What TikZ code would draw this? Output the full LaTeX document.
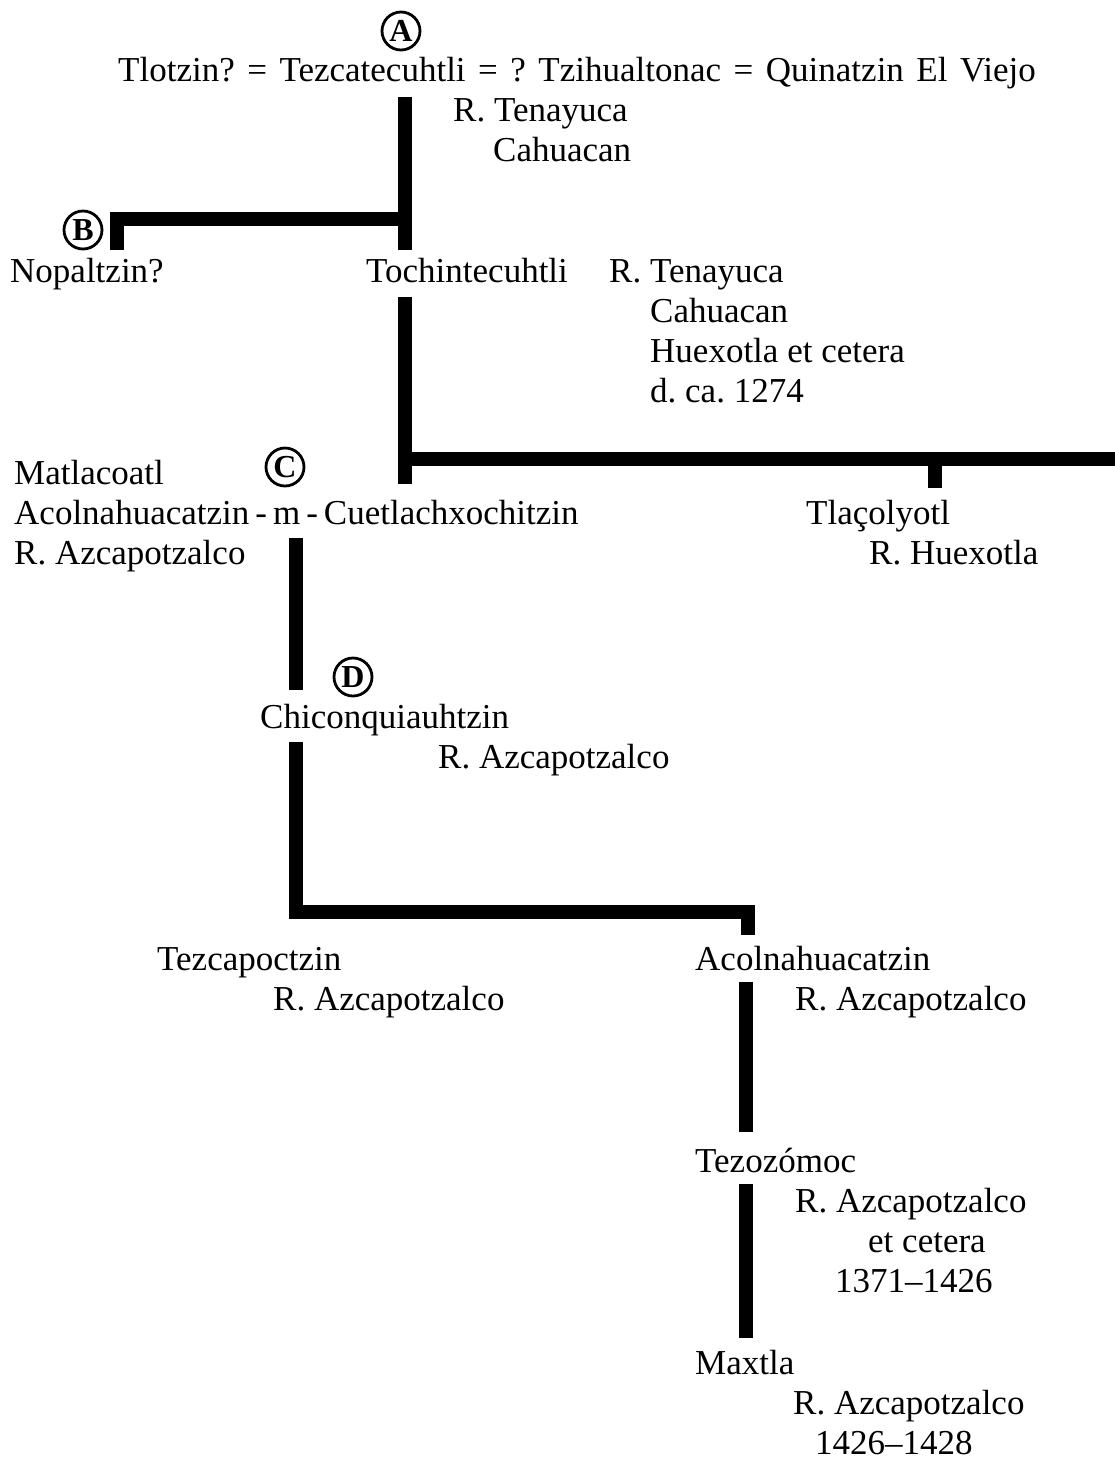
\documentclass[tikz,border=0pt]{standalone}
\usepackage{fontspec}
\setmainfont{Liberation Serif}
\frenchspacing
\begin{document}
\begin{tikzpicture}[x=1pt,y=-1pt,
  txt/.style={anchor=base west, inner sep=0pt, font=\fontsize{35}{40}\selectfont},
  circlet/.style={shape=circle, draw=black, line width=2.8pt, minimum width=38pt, minimum height=38pt, inner sep=0pt, font=\fontsize{32}{32}\selectfont\bfseries},
  bar/.style={line width=14pt, line cap=butt, line join=miter}]
\useasboundingbox (0,0) rectangle (1115,1460);
% circled letters
\node[circlet] (cA) at (401,31) {A};
\node[circlet] (cB) at (83,230) {B};
\node[circlet] (cC) at (285,467) {C};
\node[circlet] (cD) at (353,677) {D};
% texts
\node[txt] (top) at (118,81) {\spaceskip=12.5pt plus 2pt Tlotzin? = Tezcatecuhtli = ? Tzihualtonac = Quinatzin El Viejo};
\node[txt] (t1a) at (453,121) {R. Tenayuca};
\node[txt] (t1b) at (493,161) {Cahuacan};
\node[txt] (nop) at (10,282) {Nopaltzin?};
\node[txt] (toch) at (366,282) {Tochintecuhtli};
\node[txt] (t2a) at (609,282) {R. Tenayuca};
\node[txt] (t2b) at (650,322) {Cahuacan};
\node[txt] (t2c) at (650,362) {Huexotla et cetera};
\node[txt] (t2d) at (650,402) {d. ca. 1274};
\node[txt] (mat) at (14,484) {Matlacoatl};
\node[txt] (acol) at (14,524) {\spaceskip=6pt plus 1pt Acolnahuacatzin - m - Cuetlachxochitzin};
\node[txt] (acolr) at (14,564) {R. Azcapotzalco};
\node[txt] (tla) at (806,524) {Tlaçolyotl};
\node[txt] (tlar) at (869,564) {R. Huexotla};
\node[txt] (chi) at (260,728) {Chiconquiauhtzin};
\node[txt] (chir) at (438,768) {R. Azcapotzalco};
\node[txt] (tez) at (157,970) {Tezcapoctzin};
\node[txt] (tezr) at (273,1010) {R. Azcapotzalco};
\node[txt] (aco2) at (695,970) {Acolnahuacatzin};
\node[txt] (aco2r) at (795,1010) {R. Azcapotzalco};
\node[txt] (tzz) at (695,1172) {Tezozómoc};
\node[txt] (tzza) at (795,1212) {R. Azcapotzalco};
\node[txt] (tzzb) at (868,1252) {et cetera};
\node[txt] (tzzc) at (835,1292) {1371–1426};
\node[txt] (max) at (695,1374) {Maxtla};
\node[txt] (maxa) at (793,1414) {R. Azcapotzalco};
\node[txt] (maxb) at (815,1454) {1426–1428};
% bar coordinates
\coordinate (a1) at (405,97);
\coordinate (a2) at (405,250);
\coordinate (b1) at (117,250);
\coordinate (bj) at (117,219);
\coordinate (bk) at (412,219);
\coordinate (c1) at (405,297);
\coordinate (c2) at (405,484);
\coordinate (cj) at (398,459);
\coordinate (ck) at (1115,459);
\coordinate (d1) at (935,459);
\coordinate (d2) at (935,488);
\coordinate (e1) at (296,538);
\coordinate (e2) at (296,690);
\coordinate (f1) at (296,742);
\coordinate (fj) at (296,912);
\coordinate (fk) at (748,912);
\coordinate (f2) at (748,935);
\coordinate (g1) at (746,982);
\coordinate (g2) at (746,1132);
\coordinate (h1) at (746,1184);
\coordinate (h2) at (746,1338);
% bars
\draw[bar] (a1) -- (a2);
\draw[bar] (b1) -- (bj) -- (bk);
\draw[bar] (c1) -- (c2);
\draw[bar] (cj) -- (ck);
\draw[bar] (d1) -- (d2);
\draw[bar] (e1) -- (e2);
\draw[bar] (f1) -- (fj) -- (fk) -- (f2);
\draw[bar] (g1) -- (g2);
\draw[bar] (h1) -- (h2);
\end{tikzpicture}
\end{document}
